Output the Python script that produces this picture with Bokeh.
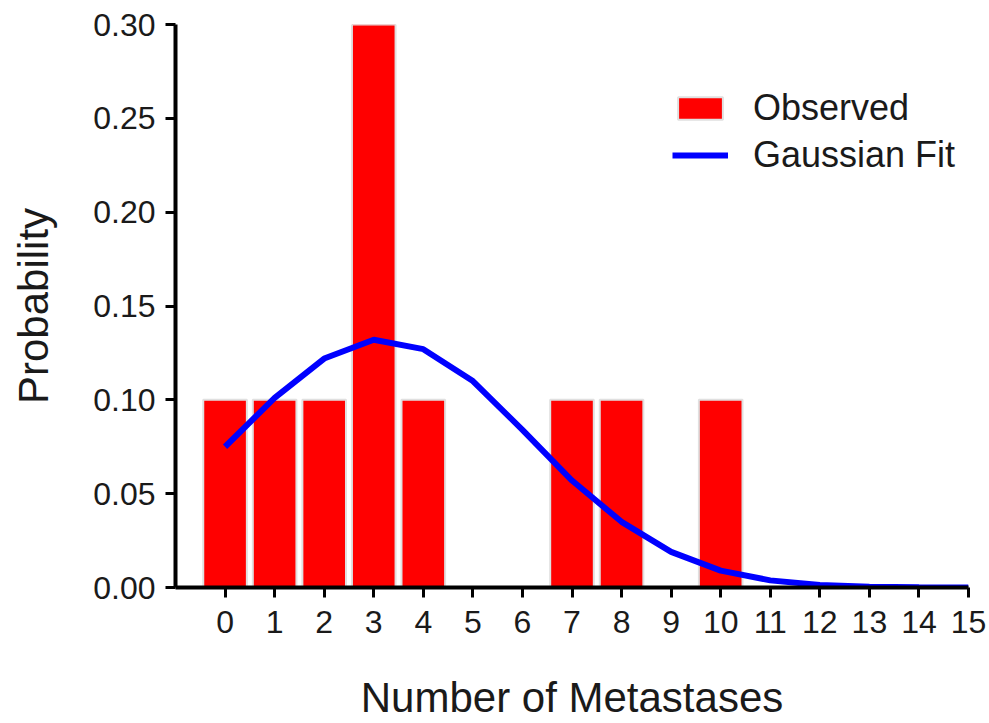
from bokeh.plotting import figure
from bokeh.models import FixedTicker, NumeralTickFormatter, Legend, LegendItem, ColumnDataSource, Range1d
from bokeh.embed import file_html
from bokeh.resources import INLINE

# Data
counts = [0, 1, 2, 3, 4, 5, 6, 7, 8, 9, 10]
observed = [0.10, 0.10, 0.10, 0.30, 0.10, 0.0, 0.0, 0.10, 0.10, 0.0, 0.10]
fit_x = [0, 1, 2, 3, 4, 5, 6, 7, 8, 9, 10, 11, 12, 13, 14, 15]
fit_y = [0.075, 0.101, 0.122, 0.132, 0.127, 0.110, 0.084, 0.057, 0.035, 0.019,
         0.009, 0.0038, 0.0013, 0.0004, 0.0001, 0.0]
x_ticks = list(range(0, 16))
y_ticks = [0.0, 0.05, 0.10, 0.15, 0.20, 0.25, 0.30]
x_title = "Number of Metastases"
y_title = "Probability"

FONT = "Liberation Sans"

p = figure(width=989, height=723, output_backend="svg", toolbar_location=None,
           x_range=Range1d(-1, 15), y_range=Range1d(0, 0.30),
           min_border_left=175, min_border_right=21, min_border_top=24, min_border_bottom=136)

bar_src = ColumnDataSource(dict(
    x=[c for c, v in zip(counts, observed) if v > 0],
    top=[v for v in observed if v > 0],
))
bars = p.vbar(x="x", top="top", bottom=0, width=0.88, source=bar_src,
              fill_color="#ff0000", line_color="#e0e0e0", line_width=2)
line = p.line(fit_x, fit_y, line_color="#0000ff", line_width=6)

p.grid.visible = False
p.outline_line_color = None
p.background_fill_color = "white"
p.border_fill_color = "white"

for ax in (p.xaxis[0], p.yaxis[0]):
    ax.axis_line_width = 4
    ax.axis_line_color = "black"
    ax.major_tick_line_width = 3
    ax.major_tick_line_color = "black"
    ax.major_tick_out = 10
    ax.major_tick_in = 0
    ax.minor_tick_line_color = None
    ax.major_label_text_font = FONT
    ax.major_label_text_font_size = "32px"
    ax.major_label_text_color = "#1a1a1a"
    ax.axis_label_text_font = FONT
    ax.axis_label_text_font_size = "42px"
    ax.axis_label_text_font_style = "normal"
    ax.axis_label_text_color = "#1a1a1a"

p.xaxis[0].ticker = FixedTicker(ticks=x_ticks)
p.yaxis[0].ticker = FixedTicker(ticks=y_ticks)
p.yaxis[0].formatter = NumeralTickFormatter(format="0.00")
p.xaxis[0].axis_label = x_title
p.yaxis[0].axis_label = y_title
p.xaxis[0].major_label_standoff = 13
p.yaxis[0].major_label_standoff = 10
p.xaxis[0].axis_label_standoff = 38
p.yaxis[0].axis_label_standoff = 33

legend = Legend(items=[LegendItem(label="Observed", renderers=[bars]),
                       LegendItem(label="Gaussian Fit", renderers=[line])],
                location=(497, 411), border_line_color=None, background_fill_alpha=0,
                label_text_font=FONT, label_text_font_size="36px", label_text_color="#1a1a1a",
                glyph_width=56, glyph_height=28, label_standoff=25, spacing=5,
                padding=0, margin=0)
p.add_layout(legend, "center")

open("out.html", "w").write(file_html(p, INLINE))
